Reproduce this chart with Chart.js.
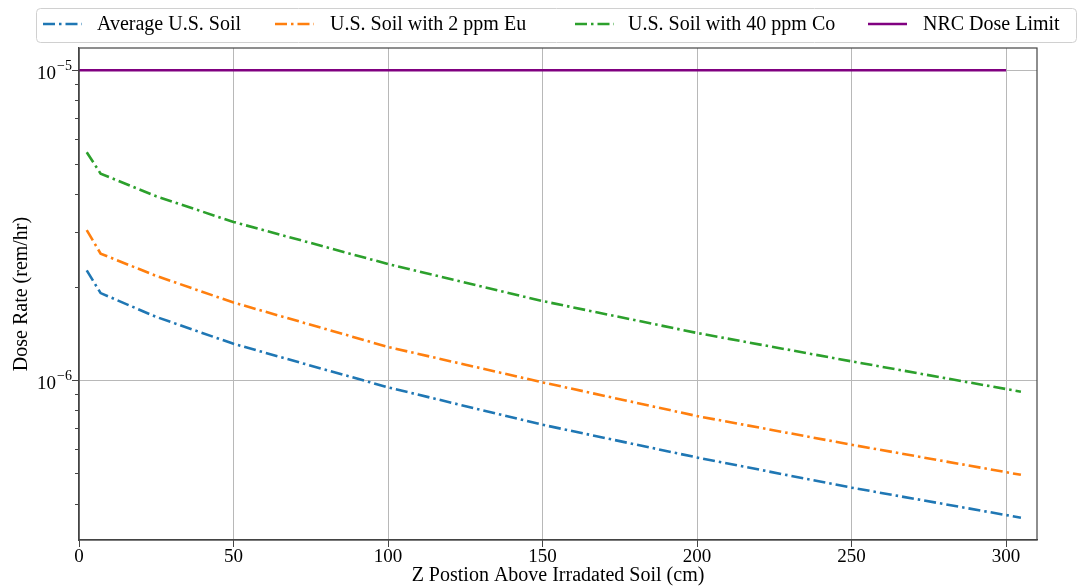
<!DOCTYPE html>
<html><head><meta charset="utf-8">
<script src="https://cdn.jsdelivr.net/npm/chart.js@4/dist/chart.umd.min.js"></script>
<style>html,body{margin:0;padding:0;background:#fff;}#wrap{width:1078px;height:588px;position:relative;}</style>
</head><body><div id="wrap"><canvas id="c" width="1078" height="588"></canvas></div>
<script>
// ---- data ----
const positions = [2.5, 7, 25, 50, 100, 150, 200, 250, 304.8];
const avgSoil = [2.26e-6, 1.91e-6, 1.60e-6, 1.31e-6, 9.48e-7, 7.18e-7, 5.63e-7, 4.50e-7, 3.60e-7];
const euSoil  = [3.05e-6, 2.56e-6, 2.17e-6, 1.78e-6, 1.28e-6, 9.84e-7, 7.66e-7, 6.19e-7, 4.95e-7];
const coSoil  = [5.44e-6, 4.64e-6, 3.92e-6, 3.24e-6, 2.37e-6, 1.80e-6, 1.42e-6, 1.15e-6, 9.18e-7];
const limitX = [0, 300];
const limitY = [1e-5, 1e-5];
const seriesNames = ['Average U.S. Soil', 'U.S. Soil with 2 ppm Eu', 'U.S. Soil with 40 ppm Co', 'NRC Dose Limit'];
const xTicks = [0, 50, 100, 150, 200, 250, 300];
const yTicks = [1e-6, 1e-5];
const yTickLabels = [['10', '\u22126'], ['10', '\u22125']];
const yMinorTicks = [4e-7, 5e-7, 6e-7, 7e-7, 8e-7, 9e-7, 2e-6, 3e-6, 4e-6, 5e-6, 6e-6, 7e-6, 8e-6, 9e-6];
const xTitle = 'Z Postion Above Irradated Soil (cm)';
const yTitle = 'Dose Rate (rem/hr)';

const colors = ['#1f77b4', '#ff7f0e', '#2ca02c', '#800080'];
const DASH = [12, 4, 2.5, 4];
const FONT = '"Liberation Serif", "Times New Roman", serif';
const SPINE = '#444';

function pts(xs, ys) { return xs.map((x, i) => ({x: x, y: ys[i]})); }

const datasets = [
  {label: seriesNames[0], data: pts(positions, avgSoil), borderColor: colors[0], borderDash: DASH},
  {label: seriesNames[1], data: pts(positions, euSoil), borderColor: colors[1], borderDash: DASH},
  {label: seriesNames[2], data: pts(positions, coSoil), borderColor: colors[2], borderDash: DASH},
  {label: seriesNames[3], data: pts(limitX, limitY), borderColor: colors[3], borderDash: []}
].map(d => Object.assign(d, {borderWidth: 2.6, pointRadius: 0, fill: false, tension: 0, borderCapStyle: 'butt'}));

const extras = {
  id: 'extras',
  afterDraw(chart) {
    const ctx = chart.ctx, a = chart.chartArea, ys = chart.scales.y;
    ctx.save();
    // spines
    ctx.strokeStyle = SPINE; ctx.lineWidth = 1.2;
    ctx.strokeRect(a.left, a.top, a.right - a.left, a.bottom - a.top);
    // minor ticks
    ctx.lineWidth = 1;
    yMinorTicks.forEach(v => {
      const y = Math.round(ys.getPixelForValue(v)) + 0.5;
      ctx.beginPath(); ctx.moveTo(a.left - 4, y); ctx.lineTo(a.left, y); ctx.stroke();
    });
    // y tick labels with superscripts
    ctx.fillStyle = '#000';
    ctx.textBaseline = 'alphabetic';
    yTicks.forEach((v, i) => {
      const y = ys.getPixelForValue(v);
      const [base, exp] = yTickLabels[i];
      ctx.font = '14px ' + FONT;
      const ew = ctx.measureText(exp).width;
      ctx.textAlign = 'right';
      ctx.fillText(exp, a.left - 7, y + 0);
      ctx.font = '19px ' + FONT;
      ctx.fillText(base, a.left - 8 - ew, y + 9);
    });
    // legend
    const lx = 36, ly = 8, lw = 1040, lh = 34;
    ctx.fillStyle = 'rgba(255,255,255,0.8)';
    ctx.strokeStyle = '#d0d0d0'; ctx.lineWidth = 1;
    ctx.beginPath();
    if (ctx.roundRect) ctx.roundRect(lx + 0.5, ly + 0.5, lw, lh, 4); else ctx.rect(lx + 0.5, ly + 0.5, lw, lh);
    ctx.fill(); ctx.stroke();
    const sampleX = [43, 275, 575, 868];
    const textX = [97, 330, 628, 923];
    const cy = 24;
    chart.data.datasets.forEach((d, i) => {
      ctx.strokeStyle = d.borderColor; ctx.lineWidth = 2.6;
      ctx.setLineDash(d.borderDash || []);
      ctx.beginPath(); ctx.moveTo(sampleX[i], cy); ctx.lineTo(sampleX[i] + 39, cy); ctx.stroke();
      ctx.setLineDash([]);
      ctx.fillStyle = '#000'; ctx.font = '20px ' + FONT;
      ctx.textAlign = 'left'; ctx.textBaseline = 'middle';
      ctx.fillText(d.label, textX[i], cy + 1);
    });
    ctx.restore();
  }
};

new Chart(document.getElementById('c'), {
  type: 'line',
  data: {datasets: datasets},
  plugins: [extras],
  options: {
    responsive: false, animation: false, devicePixelRatio: 1,
    layout: {padding: {top: 48, right: 41, left: 0, bottom: 0}},
    plugins: {legend: {display: false}, tooltip: {enabled: false}},
    scales: {
      x: {
        type: 'linear', min: 0, max: 310,
        afterBuildTicks: s => { s.ticks = xTicks.map(v => ({value: v})); },
        afterFit: s => { s.height = 48; },
        grid: {color: '#b8b8b8', lineWidth: 1, tickLength: 7, tickColor: SPINE},
        border: {color: SPINE, width: 1.2},
        ticks: {font: {family: FONT, size: 19}, color: '#000', padding: -1, maxRotation: 0, autoSkip: false},
        title: {display: true, text: xTitle, font: {family: FONT, size: 20}, color: '#000', padding: {top: 0, bottom: 0}}
      },
      y: {
        type: 'logarithmic', min: 3.05e-7, max: 1.18e-5,
        afterBuildTicks: s => { s.ticks = yTicks.map(v => ({value: v, major: true})); },
        afterFit: s => { s.width = 79; },
        grid: {color: '#b8b8b8', lineWidth: 1, tickLength: 7, tickColor: SPINE},
        border: {color: SPINE, width: 1.2},
        ticks: {callback: () => '', font: {family: FONT, size: 18}},
        title: {display: true, text: yTitle, font: {family: FONT, size: 20}, color: '#000', padding: {top: 10, bottom: 0}}
      }
    }
  }
});
</script></body></html>
